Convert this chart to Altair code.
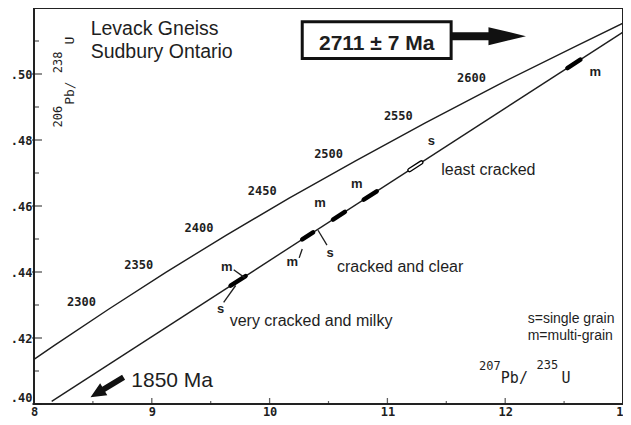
import altair as alt
import pandas as pd

# ---- Concordia curve (207Pb/235U, 206Pb/238U) ----
conc_age = [2231, 2250, 2300, 2350, 2400, 2450, 2500, 2550, 2600, 2650, 2680]
conc_x = [8.000, 8.170, 8.633, 9.119, 9.630, 10.166, 10.730, 11.322, 11.943, 12.597, 13.000]
conc_y = [0.4135, 0.4177, 0.4287, 0.4399, 0.4511, 0.4624, 0.4737, 0.4852, 0.4968, 0.5084, 0.5154]
tick_ages = [2300, 2350, 2400, 2450, 2500, 2550, 2600]

# ---- Discordia line (1850 Ma - 2711 Ma) ----
disc_x = [8.15, 13.00]
disc_y = [0.4008, 0.5127]

# ---- Error ellipses (end points along the discordia) ----
ell_x1 = [9.669, 10.277, 10.538, 10.799, 11.187, 12.528]
ell_y1 = [0.43585, 0.44987, 0.45590, 0.46192, 0.47087, 0.50181]
ell_x2 = [9.796, 10.369, 10.639, 10.909, 11.288, 12.638]
ell_y2 = [0.43878, 0.45200, 0.45823, 0.46446, 0.47320, 0.50435]
ell_open = [0, 0, 0, 0, 1, 0]

# ---- grain type labels ----
grain_lbl = ["m", "s", "m", "s", "m", "m", "s", "m"]
grain_x = [9.636, 9.585, 10.192, 10.513, 10.428, 10.740, 11.373, 12.764]
grain_y = [0.44159, 0.42873, 0.44309, 0.44578, 0.46104, 0.46673, 0.47959, 0.50054]

# ---- leader lines ----
lead_x1 = [9.695, 9.610, 10.251, 10.411]
lead_y1 = [0.44069, 0.43082, 0.44428, 0.45266]
lead_x2 = [9.788, 9.712, 10.277, 10.487]
lead_y2 = [0.43830, 0.43591, 0.44698, 0.44817]

# ---- notes ----
note_text = ["very cracked and milky", "cracked and clear", "least cracked"]
note_x = [9.661, 10.572, 11.457]
note_y = [0.42364, 0.44010, 0.46942]
key_text = ["s=single grain", "m=multi-grain"]
key_x = [12.191, 12.191]
key_y = [0.42454, 0.41945]
title_text = ["Levack Gneiss", "Sudbury Ontario"]
title_x = [8.481, 8.481]
title_y = [0.51191, 0.50473]

age_text = ["2711 \u00b1 7 Ma"]
age_box_x = [10.277]
age_box_x2 = [11.541]
age_box_y = [0.50473]
age_box_y2 = [0.51580]
age_text_x = [10.909]
age_text_y = [0.50742]

lower_text = ["1850 Ma"]
lower_x = [8.826]
lower_y = [0.40509]

arrow_up_x = [11.858]
arrow_up_y = [0.51146]
arrow_lo_x = [8.620]
arrow_lo_y = [0.40509]

# axis titles, in pieces (isotope mass numbers raised)
ytitle_t = ["206", "Pb/", "238", "U"]
ytitle_x = [8.236, 8.337, 8.236, 8.337]
ytitle_y = [0.48378, 0.49066, 0.50024, 0.50892]
ytitle_s = [12, 13, 12, 13]
xtitle_t = ["207", "Pb/", "235", "U"]
xtitle_x = [11.777, 11.963, 12.266, 12.477]
xtitle_y = [0.41017, 0.40628, 0.41047, 0.40628]
xtitle_s = [12, 15, 12, 15]

x_labels = [8, 9, 10, 11, 12, 13]
y_labels = [0.40, 0.42, 0.44, 0.46, 0.48, 0.50]
y_minor = [0.41, 0.43, 0.45, 0.47, 0.49, 0.51]
x_major = [9, 10, 11, 12]
x_minor = [8.5, 9.5, 10.5, 11.5, 12.5]

INK = "#1e1e1e"
MONO = "DejaVu Sans Mono"
SANS = "Liberation Sans"

XS = alt.Scale(domain=[8, 13], nice=False, zero=False)
YS = alt.Scale(domain=[0.40, 0.52], nice=False, zero=False)
XA = alt.Axis(values=x_labels, format="d", ticks=False, domain=False, grid=False,
              title=None, labelFont=MONO, labelFontSize=12, labelFontWeight="bold",
              labelPadding=2, labelFlush=False, labelColor=INK)
YA = alt.Axis(values=y_labels, labelExpr="replace(format(datum.value, '.2f'), '0.', '.')",
              labelBaseline=alt.condition("datum.value < 0.405", alt.value("bottom"), alt.value("middle")),
              ticks=False, domain=False, grid=False, title=None, labelFont=MONO,
              labelFontSize=12, labelFontWeight="bold", labelPadding=2, labelColor=INK)


def X(f):
    return alt.X(f, type="quantitative", scale=XS, axis=XA)


def Y(f):
    return alt.Y(f, type="quantitative", scale=YS, axis=YA)


conc = pd.DataFrame({"age": conc_age, "x": conc_x, "y": conc_y})
conc["label"] = conc["age"].astype(str)
ticks_df = conc[conc["age"].isin(tick_ages)]
disc = pd.DataFrame({"x": disc_x, "y": disc_y})
ell = pd.DataFrame({"x": ell_x1, "y": ell_y1, "x2": ell_x2, "y2": ell_y2, "open": ell_open})
grain = pd.DataFrame({"t": grain_lbl, "x": grain_x, "y": grain_y})
lead = pd.DataFrame({"x": lead_x1, "y": lead_y1, "x2": lead_x2, "y2": lead_y2})
notes = pd.DataFrame({"t": note_text, "x": note_x, "y": note_y})
keys = pd.DataFrame({"t": key_text, "x": key_x, "y": key_y})
titles = pd.DataFrame({"t": title_text, "x": title_x, "y": title_y})
box = pd.DataFrame({"x": age_box_x, "x2": age_box_x2, "y": age_box_y, "y2": age_box_y2})
boxt = pd.DataFrame({"t": age_text, "x": age_text_x, "y": age_text_y})
lowt = pd.DataFrame({"t": lower_text, "x": lower_x, "y": lower_y})
arr_up = pd.DataFrame({"x": arrow_up_x, "y": arrow_up_y})
arr_lo = pd.DataFrame({"x": arrow_lo_x, "y": arrow_lo_y})
yt = pd.DataFrame({"t": ytitle_t, "x": ytitle_x, "y": ytitle_y, "s": ytitle_s})
xt = pd.DataFrame({"t": xtitle_t, "x": xtitle_x, "y": xtitle_y, "s": xtitle_s})
ymaj = pd.DataFrame({"x": [8] * len(y_labels), "y": y_labels})
ymin = pd.DataFrame({"x": [8] * len(y_minor), "y": y_minor})
xmaj = pd.DataFrame({"x": x_major, "y": [0.40] * len(x_major)})
xmin = pd.DataFrame({"x": x_minor, "y": [0.40] * len(x_minor)})

layers = []
layers.append(alt.Chart(conc).mark_line(color=INK, strokeWidth=1.4).encode(x=X("x"), y=Y("y"), order="age:Q"))
layers.append(alt.Chart(ticks_df).mark_text(font=MONO, fontSize=12, fontWeight="bold", color=INK,
                                             dx=-27, dy=-7).encode(x=X("x"), y=Y("y"), text="label:N"))
layers.append(alt.Chart(disc).mark_line(color=INK, strokeWidth=1.4).encode(x=X("x"), y=Y("y")))
layers.append(alt.Chart(ell).mark_rule(color="#000", strokeWidth=4.5, strokeCap="round").encode(
    x=X("x"), y=Y("y"), x2="x2:Q", y2="y2:Q"))
layers.append(alt.Chart(ell[ell["open"] == 1]).mark_rule(color="white", strokeWidth=1.8, strokeCap="round").encode(
    x=X("x"), y=Y("y"), x2="x2:Q", y2="y2:Q"))
layers.append(alt.Chart(lead).mark_rule(color=INK, strokeWidth=1.3).encode(
    x=X("x"), y=Y("y"), x2="x2:Q", y2="y2:Q"))
layers.append(alt.Chart(grain).mark_text(font=SANS, fontSize=13, fontWeight="bold", color=INK).encode(
    x=X("x"), y=Y("y"), text="t:N"))
layers.append(alt.Chart(notes).mark_text(font=SANS, fontSize=16, color=INK, align="left", baseline="alphabetic").encode(
    x=X("x"), y=Y("y"), text="t:N"))
layers.append(alt.Chart(keys).mark_text(font=SANS, fontSize=14, color=INK, align="left", baseline="alphabetic").encode(
    x=X("x"), y=Y("y"), text="t:N"))
layers.append(alt.Chart(titles).mark_text(font=SANS, fontSize=19.5, color=INK, align="left", baseline="alphabetic").encode(
    x=X("x"), y=Y("y"), text="t:N"))
layers.append(alt.Chart(box).mark_rect(fill="white", stroke="#111", strokeWidth=3).encode(
    x=X("x"), x2="x2:Q", y=Y("y"), y2="y2:Q"))
layers.append(alt.Chart(boxt).mark_text(font=SANS, fontSize=21, fontWeight="bold", color=INK, align="center",
                                         baseline="alphabetic").encode(x=X("x"), y=Y("y"), text="t:N"))
layers.append(alt.Chart(lowt).mark_text(font=SANS, fontSize=21, color=INK, align="left", baseline="alphabetic").encode(
    x=X("x"), y=Y("y"), text="t:N"))
layers.append(alt.Chart(arr_up).mark_point(
    shape="M-1,-0.107L0,-0.107L0,-0.24L1,0L0,0.24L0,0.107L-1,0.107Z",
    size=5625, filled=True, color="#111", opacity=1, strokeWidth=0).encode(x=X("x"), y=Y("y")))
layers.append(alt.Chart(arr_lo).mark_point(
    shape="M-1,-0.15L0.2,-0.15L0.2,-0.36L1,0L0.2,0.36L0.2,0.15L-1,0.15Z",
    size=1490, filled=True, color="#111", opacity=1, strokeWidth=0, angle=149).encode(x=X("x"), y=Y("y")))
layers.append(alt.Chart(yt).mark_text(font=MONO, color=INK, angle=270, align="left",
                                       baseline="alphabetic").encode(
    x=X("x"), y=Y("y"), text="t:N", size=alt.Size("s:Q", scale=None, legend=None)))
layers.append(alt.Chart(xt).mark_text(font=MONO, color=INK, align="left",
                                       baseline="alphabetic").encode(
    x=X("x"), y=Y("y"), text="t:N", size=alt.Size("s:Q", scale=None, legend=None)))
layers.append(alt.Chart(ymaj).mark_tick(orient="horizontal", size=10, thickness=1.4, xOffset=3, color=INK).encode(
    x=X("x"), y=Y("y")))
layers.append(alt.Chart(ymin).mark_tick(orient="horizontal", size=5, thickness=1.3, xOffset=2.5, color=INK).encode(
    x=X("x"), y=Y("y")))
layers.append(alt.Chart(xmaj).mark_tick(orient="vertical", size=6, thickness=1.3, yOffset=-3, color=INK).encode(
    x=X("x"), y=Y("y")))
layers.append(alt.Chart(xmin).mark_tick(orient="vertical", size=3, thickness=1.2, yOffset=-1.5, color=INK).encode(
    x=X("x"), y=Y("y")))

chart = alt.layer(*layers).properties(
    width=589, height=396,
    padding={"left": 26, "top": 0, "right": 0, "bottom": 13},
    autosize=alt.AutoSizeParams(type="none"),
    background="white",
).configure_view(stroke="#222", strokeWidth=2)

chart.save("out.html", embed_options={"renderer": "svg", "actions": False})
